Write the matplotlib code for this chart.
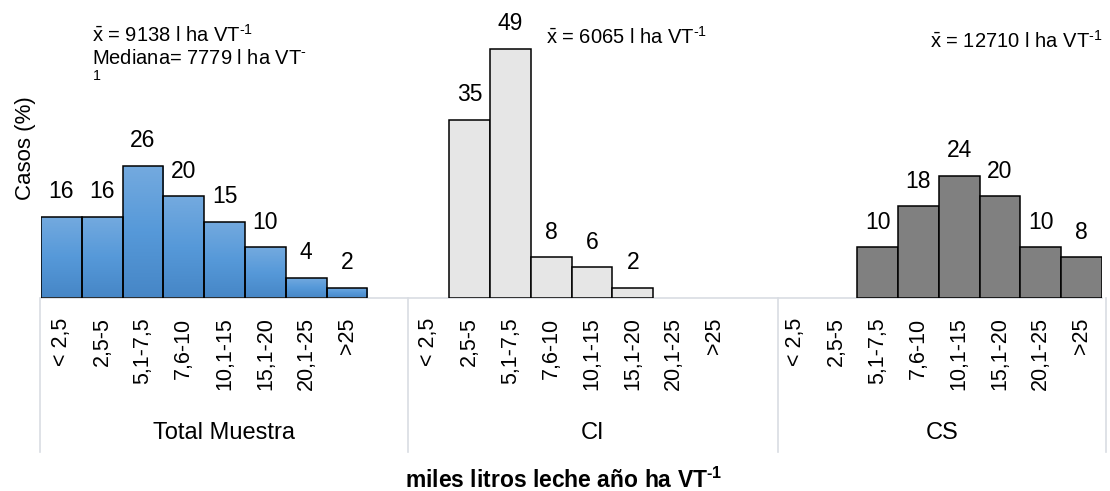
import numpy as np
import matplotlib
matplotlib.use("Agg")
import matplotlib.pyplot as plt
from matplotlib.colors import LinearSegmentedColormap
import matplotlib.transforms as mtransforms

plt.rcParams['font.family'] = ['Liberation Sans', 'DejaVu Sans']
plt.rcParams['mathtext.fontset'] = 'custom'
plt.rcParams['mathtext.rm'] = 'Liberation Sans'
plt.rcParams['mathtext.it'] = 'Liberation Sans:italic'
plt.rcParams['mathtext.bf'] = 'Liberation Sans:bold'

HY = "\u2010"
# ---- data ----
categories = ["< 2,5", "2,5-5", "5,1-7,5", "7,6-10", "10,1-15", "15,1-20", "20,1-25", ">25"]
groups = ["Total Muestra", "CI", "CS"]
total_muestra = [16, 16, 26, 20, 15, 10, 4, 2]
ci_values = [None, 35, 49, 8, 6, 2, None, None]
cs_values = [None, None, 10, 18, 24, 20, 10, 8]
annotations = ["$\\bar{\\mathrm{x}}$ = 9138 l ha VT$^{" + HY + "\\mathrm{1}}$",
               "$\\bar{\\mathrm{x}}$ = 6065 l ha VT$^{" + HY + "\\mathrm{1}}$",
               "$\\bar{\\mathrm{x}}$ = 12710 l ha VT$^{" + HY + "\\mathrm{1}}$"]
mediana_text = "Mediana= 7779 l ha VT$^{" + HY + "}$"
y_label = "Casos (%)"
x_label = "miles litros leche año ha VT$^{\\mathbf{" + HY + "1}}$"

series = [total_muestra, ci_values, cs_values]
colors = [None, "#e6e6e6", "#808080"]

W, H = 1110, 491
fig = plt.figure(figsize=(W / 100, H / 100), dpi=100)
ax = fig.add_axes([41 / W, 1 - 298 / H, 1061 / W, 280 / H])

slot = 9  # 8 categories + 1 blank slot per group
cmap_blue = LinearSegmentedColormap.from_list("b", ["#4686c6", "#5699d9", "#74aadf"])

for g, vals in enumerate(series):
    for k, v in enumerate(vals):
        if v is None:
            continue
        x = g * slot + k
        if g == 0:
            bar = ax.bar(x, v, width=1.0, facecolor="none", edgecolor="black", linewidth=1.1, zorder=3)[0]
            grad = np.linspace(0, 1, 256).reshape(-1, 1)
            im = ax.imshow(grad, extent=[x - 0.5, x + 0.5, 0, v], aspect="auto", cmap=cmap_blue,
                           origin="lower", zorder=2)
            im.set_clip_path(bar)
        else:
            ax.bar(x, v, width=1.0, facecolor=colors[g], edgecolor="black", linewidth=1.1, zorder=3)
        ax.annotate(str(v), (x, v), xytext=(0, 18), textcoords="offset points",
                    ha="center", va="center", fontsize=16.5, zorder=4)

ax.set_xlim(-0.5, 3 * slot - 1.5)
ax.set_ylim(0, 55)
for s in ["top", "left", "right"]:
    ax.spines[s].set_visible(False)
ax.spines["bottom"].set_color("#d9dde3")
ax.spines["bottom"].set_linewidth(1.2)
ax.set_yticks([])

ticks, labels = [], []
for g in range(3):
    for k, c in enumerate(categories):
        ticks.append(g * slot + k)
        labels.append(c)
ax.set_xticks(ticks)
ax.set_xticklabels(labels, rotation=90, fontsize=15.5, va="top", ha="center")
ax.tick_params(axis="x", length=0, pad=14)

# separators and group labels
trans = mtransforms.blended_transform_factory(ax.transData, fig.transFigure)
sep_x = [-0.52, 8.5, 17.55, 25.6]
for sx in sep_x:
    ax.add_line(plt.Line2D([sx, sx], [1 - 298 / H, 1 - 452 / H], transform=trans,
                           color="#d9dde3", linewidth=1.2, clip_on=False))
for g, name in enumerate(groups):
    cx = (sep_x[g] + sep_x[g + 1]) / 2
    ax.text(cx, 1 - 433 / H, name, transform=trans, ha="center", va="center", fontsize=17)

# annotations
fig.text(92 / W, 1 - 35 / H, annotations[0], ha="left", va="center", fontsize=14.5)
fig.text(92 / W, 1 - 59 / H, mediana_text, ha="left", va="center", fontsize=14.5)
fig.text(92 / W, 1 - 80 / H, "$^{1}$", ha="left", va="center", fontsize=14.5)
fig.text(546 / W, 1 - 37 / H, annotations[1], ha="left", va="center", fontsize=14.5)
fig.text(930 / W, 1 - 41 / H, annotations[2], ha="left", va="center", fontsize=14.5)

fig.text(25 / W, 1 - 148 / H, y_label, rotation=90, ha="center", va="center", fontsize=16)
fig.text(564 / W, 1 - 480 / H, x_label, ha="center", va="center", fontsize=16.5, fontweight="bold")

fig.savefig("out.png", dpi=100)
